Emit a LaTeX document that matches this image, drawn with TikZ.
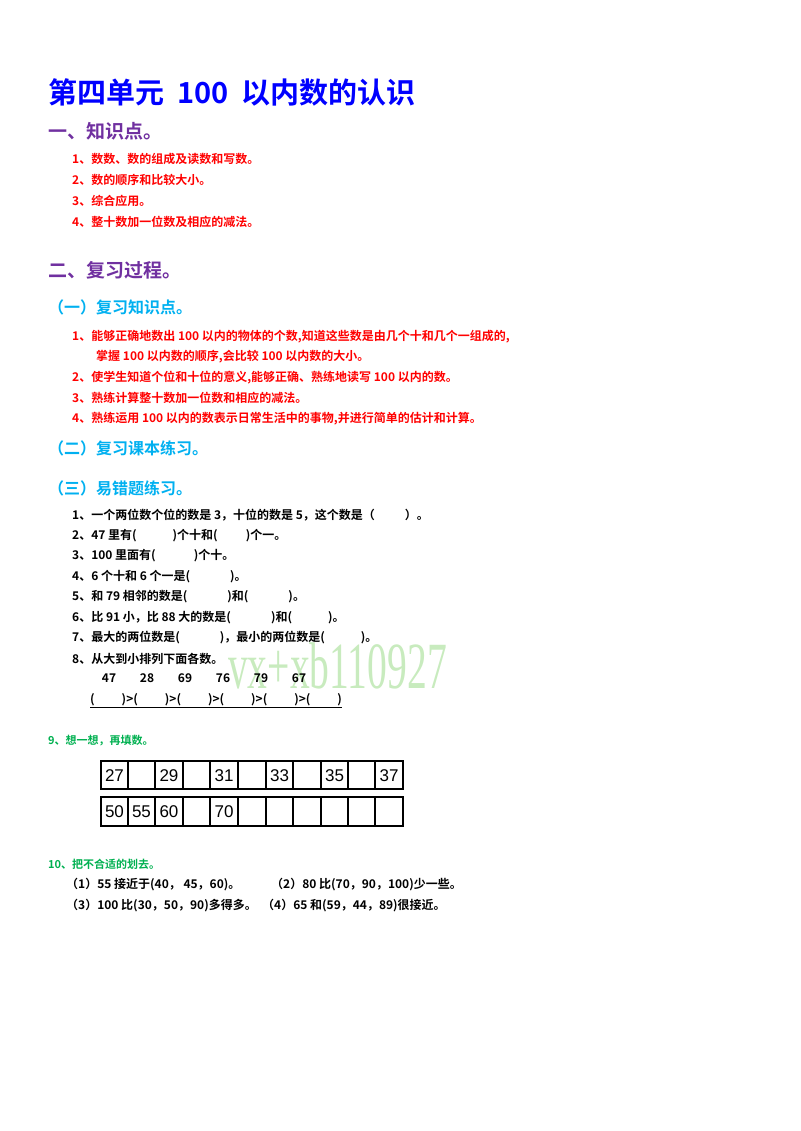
\documentclass[tikz,border=0pt]{standalone}
\usepackage{fontspec}
\newfontfamily\cjk{Noto Sans CJK SC}[BoldFont={* Bold}]
\newfontfamily\wm{Liberation Serif}
\definecolor{tblue}{RGB}{0,0,255}
\definecolor{purp}{RGB}{112,48,160}
\definecolor{cyanb}{RGB}{0,176,240}
\definecolor{redt}{RGB}{255,0,0}
\definecolor{grn}{RGB}{0,176,80}
\definecolor{wmg}{RGB}{200,235,190}
\begin{document}
\begin{tikzpicture}[x=1pt,y=-1pt,
  every node/.style={anchor=west,inner sep=0pt},
  title/.style={font=\cjk\bfseries\fontsize{29}{32}\selectfont,text=tblue},
  head/.style={font=\cjk\bfseries\fontsize{19}{22}\selectfont,text=purp},
  sub/.style={font=\cjk\bfseries\fontsize{16}{19}\selectfont,text=cyanb},
  red/.style={font=\cjk\bfseries\fontsize{12}{14}\selectfont,text=redt},
  blk/.style={font=\cjk\bfseries\fontsize{12}{14}\selectfont},
  gr/.style={font=\cjk\bfseries\fontsize{11}{13}\selectfont,text=grn},
  cellnum/.style={anchor=center,font=\fontspec{Liberation Sans}\fontsize{17}{19}\selectfont}]
\useasboundingbox (0,0) rectangle (800,1131);
\node[title] (t) at (48,92) {第四单元\ \ 100\ \ 以内数的认识};
\node[head] (h1) at (48,131) {一、知识点。};
\node[red] (a1) at (72,159) {1、数数、数的组成及读数和写数。};
\node[red] (a2) at (72,180) {2、数的顺序和比较大小。};
\node[red] (a3) at (72,201) {3、综合应用。};
\node[red] (a4) at (72,222) {4、整十数加一位数及相应的减法。};
\node[head] (h2) at (48,270) {二、复习过程。};
\node[sub] (s1) at (48,307) {（一）复习知识点。};
\node[red] (b1) at (72,337) {1、能够正确地数出 100 以内的物体的个数,知道这些数是由几个十和几个一组成的,};
\node[red] (b1b) at (96,357) {掌握 100 以内数的顺序,会比较 100 以内数的大小。};
\node[red] (b2) at (72,378) {2、使学生知道个位和十位的意义,能够正确、熟练地读写 100 以内的数。};
\node[red] (b3) at (72,398) {3、熟练计算整十数加一位数和相应的减法。};
\node[red] (b4) at (72,419) {4、熟练运用 100 以内的数表示日常生活中的事物,并进行简单的估计和计算。};
\node[sub] (s2) at (48,448) {（二）复习课本练习。};
\node[sub] (s3) at (48,488) {（三）易错题练习。};
\node[blk] (c1) at (72,515) {1、一个两位数个位的数是 3，十位的数是 5，这个数是（\hspace{30pt}）。};
\node[blk] (c2) at (72,536) {2、47 里有(\hspace{36pt})个十和(\hspace{28pt})个一。};
\node[blk] (c3) at (72,556) {3、100 里面有(\hspace{38pt})个十。};
\node[blk] (c4) at (72,577) {4、6 个十和 6 个一是(\hspace{40pt})。};
\node[blk] (c5) at (72,597) {5、和 79 相邻的数是(\hspace{40pt})和(\hspace{40pt})。};
\node[blk] (c6) at (72,618) {6、比 91 小，比 88 大的数是(\hspace{40pt})和(\hspace{36pt})。};
\node[blk] (c7) at (72,638) {7、最大的两位数是(\hspace{40pt})，最小的两位数是(\hspace{36pt})。};
\node[blk] (c8) at (72,659) {8、从大到小排列下面各数。};
\node[anchor=west,xscale=0.6,font=\wm\fontsize{66}{66}\selectfont,text=wmg] (wm) at (228,666) {vx+xb110927};
\foreach \n/\x in {47/109,28/147,69/185,76/223,79/261,67/299}
  \node[blk,anchor=center] (n\n) at (\x,678) {\n};
\node[blk] (par) at (90,700) {(\hspace{27pt})>(\hspace{27pt})>(\hspace{27pt})>(\hspace{27pt})>(\hspace{27pt})>(\hspace{27pt})};
\draw[line width=1pt] (par.south west) ++(0,1) coordinate (u1) -- (par.south east |- u1);
\node[gr] (g9) at (48,741) {9、想一想，再填数。};
\foreach \xa/\xb in {101/128,128/155,155/183,183/210,210/238,238/266,266/293,293/321,321/348,348/375,375/403}{
  \draw[line width=1.2pt] (\xa,761) rectangle (\xb,789);
  \draw[line width=1.2pt] (\xa,797) rectangle (\xb,826);}
\foreach \v/\x in {27/114.5,29/169,31/224,33/279.5,35/334.5,37/389}
  \node[cellnum] (r\v) at (\x,776) {\v};
\foreach \v/\x in {50/114.5,55/141.5,60/169,70/224}
  \node[cellnum] (q\v) at (\x,812) {\v};
\node[gr] (g10) at (48,864) {10、把不合适的划去。};
\node[blk] (d1) at (66,885) {（1）55 接近于(40，\ 45，60)。};
\node[blk] (d2) at (271,885) {（2）80 比(70，90，100)少一些。};
\node[blk] (d3) at (66,906) {（3）100 比(30，50，90)多得多。};
\node[blk] (d4) at (262,906) {（4）65 和(59，44，89)很接近。};
\end{tikzpicture}
\end{document}
